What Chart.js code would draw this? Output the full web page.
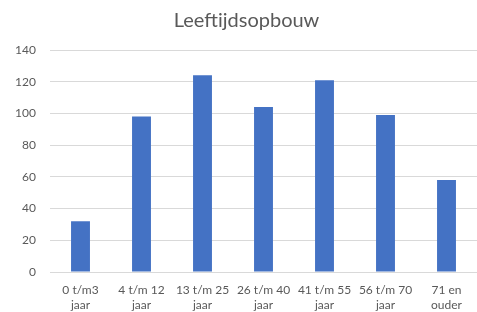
<!DOCTYPE html>
<html lang="nl">
<head>
    <meta charset="UTF-8">
    <title>Leeftijdsopbouw</title>
    <script src="https://cdn.jsdelivr.net/npm/chart.js@4.4.0/dist/chart.umd.min.js"></script>
    <style>
        * { margin: 0; padding: 0; box-sizing: border-box; }
        body { background: #ffffff; width: 477px; height: 312px; overflow: hidden; }
        .chart-container { position: relative; width: 477px; height: 312px; }
    </style>
</head>
<body>
    <div class="chart-container">
        <canvas id="ageChart"></canvas>
    </div>

    <script>
        // Data
        const categories = [
            ['0 t/m3', 'jaar'],
            ['4 t/m 12', 'jaar'],
            ['13 t/m 25', 'jaar'],
            ['26 t/m 40', 'jaar'],
            ['41 t/m 55', 'jaar'],
            ['56 t/m 70', 'jaar'],
            ['71 en', 'ouder']
        ];
        const counts = [32, 98, 124, 104, 121, 99, 58];
        const yTicks = [0, 20, 40, 60, 80, 100, 120, 140];

        const textColor = '#595959';
        const gridColor = '#d9d9d9';
        const fontFamily = "Lato, 'Open Sans', sans-serif";

        const ctx = document.getElementById('ageChart').getContext('2d');
        new Chart(ctx, {
            type: 'bar',
            data: {
                labels: categories,
                datasets: [{
                    label: 'Aantal',
                    data: counts,
                    backgroundColor: '#4472C4',
                    barPercentage: 0.31,
                    categoryPercentage: 1.0
                }]
            },
            options: {
                responsive: true,
                maintainAspectRatio: false,
                animation: false,
                layout: {
                    padding: { left: 14, right: -2, top: 0, bottom: 0 }
                },
                plugins: {
                    legend: { display: false },
                    tooltip: { enabled: false },
                    title: {
                        display: true,
                        text: 'Leeftijdsopbouw',
                        color: textColor,
                        font: { family: fontFamily, size: 20, weight: 'normal', lineHeight: 1.2 },
                        padding: { top: 9, bottom: 17 }
                    }
                },
                scales: {
                    x: {
                        afterFit: axis => {
                            axis.height = 40;
                        },
                        grid: { display: false, drawTicks: false },
                        border: { display: true, color: gridColor, width: 1 },
                        ticks: {
                            color: textColor,
                            font: { family: fontFamily, size: 12, lineHeight: 1.25 },
                            padding: 11,
                            maxRotation: 0,
                            autoSkip: false
                        }
                    },
                    y: {
                        min: 0,
                        max: 140,
                        afterBuildTicks: axis => {
                            axis.ticks = yTicks.map(v => ({ value: v }));
                        },
                        afterFit: axis => {
                            axis.width = 36;
                        },
                        grid: { color: gridColor, lineWidth: 1, drawTicks: false },
                        border: { display: false },
                        ticks: {
                            color: textColor,
                            font: { family: fontFamily, size: 12 },
                            padding: 14
                        }
                    }
                }
            }
        });
    </script>
</body>
</html>
